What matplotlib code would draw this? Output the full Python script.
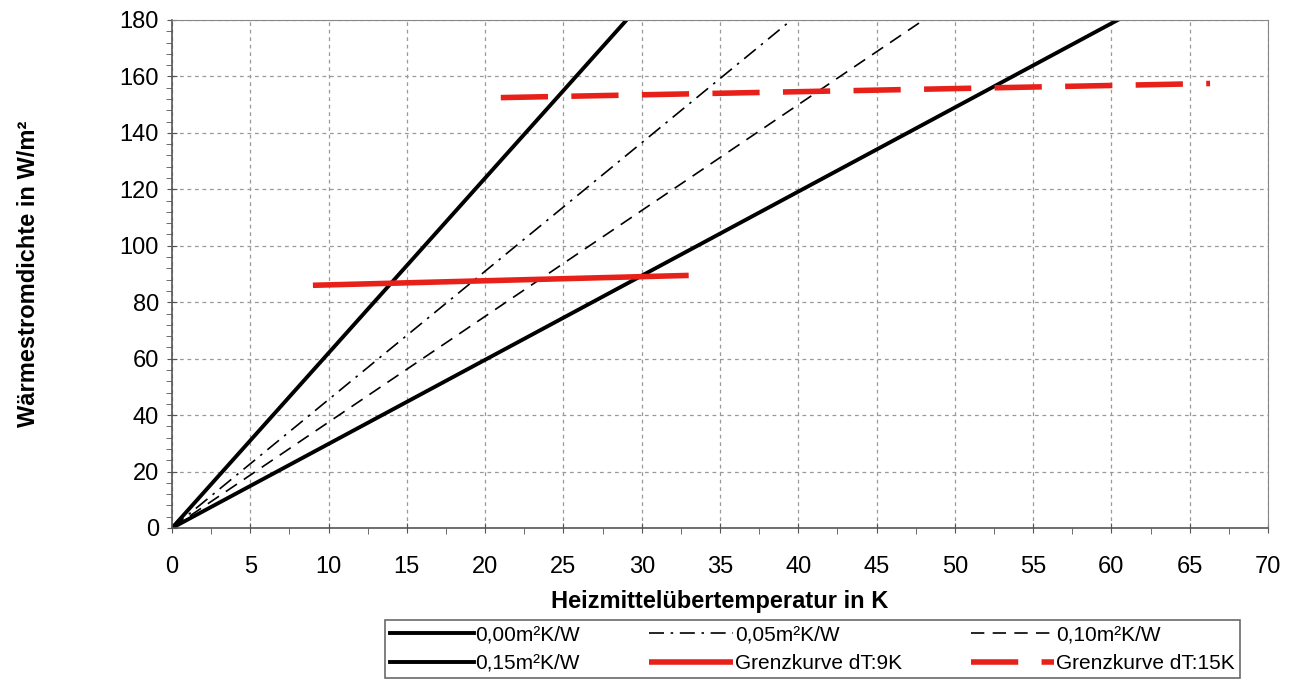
import matplotlib
matplotlib.use("Agg")
import matplotlib.pyplot as plt
import numpy as np
from matplotlib.ticker import MultipleLocator

plt.rcParams['font.family'] = ['Liberation Sans', 'DejaVu Sans']

# Heat flux density over heating medium excess temperature
x_range = [0, 70]
slope_r000 = 6.2    # 0,00 m²K/W
slope_r005 = 4.55   # 0,05 m²K/W
slope_r010 = 3.75   # 0,10 m²K/W
slope_r015 = 2.98   # 0,15 m²K/W

limit_9k_x = [9, 33]
limit_9k_y = [86.0, 89.5]
limit_15k_x = [21, 66.3]
limit_15k_y = [152.5, 157.5]

x_ticks = list(range(0, 71, 5))
y_ticks = list(range(0, 181, 20))

fig = plt.figure(figsize=(12.95, 6.79), dpi=100)
ax = fig.add_axes([172/1295, 1 - 528/679, (1268-172)/1295, (528-20)/679])

xs = np.array(x_range, dtype=float)
h000, = ax.plot(xs, slope_r000 * xs, color='black', lw=2.8, label='0,00m²K/W')
h005, = ax.plot(xs, slope_r005 * xs, color='black', lw=1.2, ls=(0, (9, 4, 1.5, 4)), label='0,05m²K/W')
h010, = ax.plot(xs, slope_r010 * xs, color='black', lw=1.2, ls=(0, (8, 5)), label='0,10m²K/W')
h015, = ax.plot(xs, slope_r015 * xs, color='black', lw=2.8, label='0,15m²K/W')
h9, = ax.plot(limit_9k_x, limit_9k_y, color='#e8201a', lw=4.0, solid_capstyle='butt',
              label='Grenzkurve dT:9K')
h15, = ax.plot(limit_15k_x, limit_15k_y, color='#e8201a', lw=4.0, ls=(0, (8.5, 4.2)),
               label='Grenzkurve dT:15K')

ax.set_xlim(0, 70)
ax.set_ylim(0, 180)
ax.set_xticks(x_ticks)
ax.set_yticks(y_ticks)
ax.xaxis.set_minor_locator(MultipleLocator(2.5))
ax.yaxis.set_minor_locator(MultipleLocator(4))
ax.tick_params(axis='both', which='major', labelsize=17, length=7, direction='inout',
               color='#555555', pad=6)
ax.tick_params(axis='x', which='major', pad=17)
ax.tick_params(axis='both', which='minor', length=4, direction='out', color='#555555')
ax.grid(True, which='major', color='#999999', ls=(0, (3, 3)), lw=0.9)
for side in ['top', 'right']:
    ax.spines[side].set_color('#888888')
for side in ['left', 'bottom']:
    ax.spines[side].set_color('#555555')
    ax.spines[side].set_linewidth(1.2)

ax.set_xlabel('Heizmittelübertemperatur in K', fontsize=17, fontweight='bold', labelpad=8)
ax.set_ylabel('Wärmestromdichte in W/m²', fontsize=17, fontweight='bold', labelpad=57)

# legend filled row by row
handles = [h000, h005, h010, h015, h9, h15]
order = [0, 3, 1, 4, 2, 5]
leg = fig.legend([handles[i] for i in order], [handles[i].get_label() for i in order],
                 loc='lower left',
                 bbox_to_anchor=(385/1295, 1 - 678/679, (1240-385)/1295, (678-612)/679),
                 mode='expand', ncol=3, fontsize=15, frameon=True, fancybox=False,
                 edgecolor='#444444', handlelength=4.0, handletextpad=0.1,
                 borderaxespad=0, borderpad=0.25, labelspacing=0.45, columnspacing=1.0)
leg.get_frame().set_linewidth(1.2)

fig.savefig('out.png', dpi=100)
